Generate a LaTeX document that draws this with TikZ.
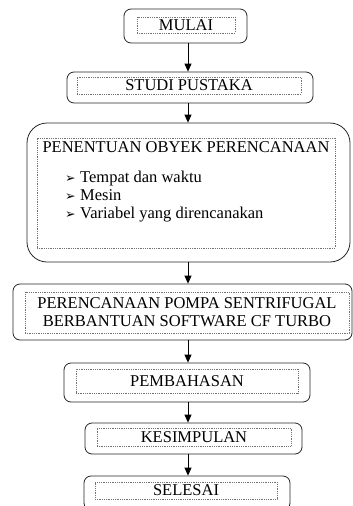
\documentclass[tikz,border=0pt]{standalone}
\usepackage{fontspec}
\setmainfont{Liberation Serif}
\newfontfamily\symfont{DejaVu Sans}
\usetikzlibrary{arrows.meta,positioning}
\newcommand{\huruf}{\fontsize{16.5}{18}\selectfont}
\newcommand{\bul}{\makebox[15pt][l]{\symfont\fontsize{12.5}{12.5}\selectfont ➢}}

\begin{document}
\begin{tikzpicture}[x=1pt,y=-1pt,
    luar/.style={draw=black!85,line width=0.8pt,rounded corners=7pt,inner sep=0pt},
    dalam/.style={draw=black!55,densely dotted,line width=0.8pt,inner sep=0pt,align=center,font=\huruf},
    panah/.style={-{Triangle[length=8pt,width=7pt]},line width=0.8pt}]
    \useasboundingbox (0,0) rectangle (353,506);
    \coordinate (sumbu) at (188,0);
    % kotak luar
    \node[luar,minimum width=123pt,minimum height=34pt] (mulai) at (185.5,26) {};
    \node[luar,minimum width=246pt,minimum height=31pt] (studi) at (190,87.5) {};
    \node[luar,rounded corners=20pt,minimum width=323pt,minimum height=139pt] (obyek) at (188.5,192.5) {};
    \node[luar,minimum width=339pt,minimum height=56pt] (pompa) at (182.5,312) {};
    \node[luar,minimum width=246pt,minimum height=39pt] (bahas) at (187,382.5) {};
    \node[luar,minimum width=217pt,minimum height=31pt] (simpul) at (193.5,438.5) {};
    \node[luar,minimum width=206pt,minimum height=34pt] (selesai) at (187,493) {};
    % kotak dalam (bertitik)
    \node[dalam,minimum width=98pt,minimum height=16pt] (tmulai) at (186,25) {MULAI};
    \node[dalam,minimum width=224pt,minimum height=17pt] (tstudi) at (189,85.5) {STUDI PUSTAKA};
    \node[dalam,minimum width=298pt,minimum height=110pt] (tobyek) at (186,193) {};
    \node[dalam,minimum width=324pt,minimum height=41pt] (tpompa) at (187,312.5)
        {PERENCANAAN POMPA SENTRIFUGAL\\BERBANTUAN SOFTWARE CF TURBO};
    \node[dalam,minimum width=222pt,minimum height=24pt] (tbahas) at (187,381) {PEMBAHASAN};
    \node[dalam,minimum width=194pt,minimum height=18pt] (tsimpul) at (194,437) {KESIMPULAN};
    \node[dalam,minimum width=182pt,minimum height=17pt] (tselesai) at (186,490.5) {SELESAI};
    % isi objek perencanaan
    \node[font=\huruf,inner sep=0pt] (judul) at (186,147) {PENENTUAN OBYEK PERENCANAAN};
    \node[font=\huruf,inner sep=0pt,anchor=base west] (butir1) at (65,182) {\bul Tempat dan waktu};
    \node[font=\huruf,inner sep=0pt,anchor=base west] (butir2) at (65,200) {\bul Mesin};
    \node[font=\huruf,inner sep=0pt,anchor=base west] (butir3) at (65,218) {\bul Variabel yang direncanakan};
    % panah
    \draw[panah] (mulai.south -| sumbu) -- (studi.north -| sumbu);
    \draw[panah] (studi.south -| sumbu) -- (obyek.north -| sumbu);
    \draw[panah] (obyek.south -| sumbu) -- (pompa.north -| sumbu);
    \draw[panah] (pompa.south -| sumbu) -- (bahas.north -| sumbu);
    \draw[panah] (bahas.south -| sumbu) -- (simpul.north -| sumbu);
    \draw[panah] (simpul.south -| sumbu) -- (selesai.north -| sumbu);
\end{tikzpicture}
\end{document}
